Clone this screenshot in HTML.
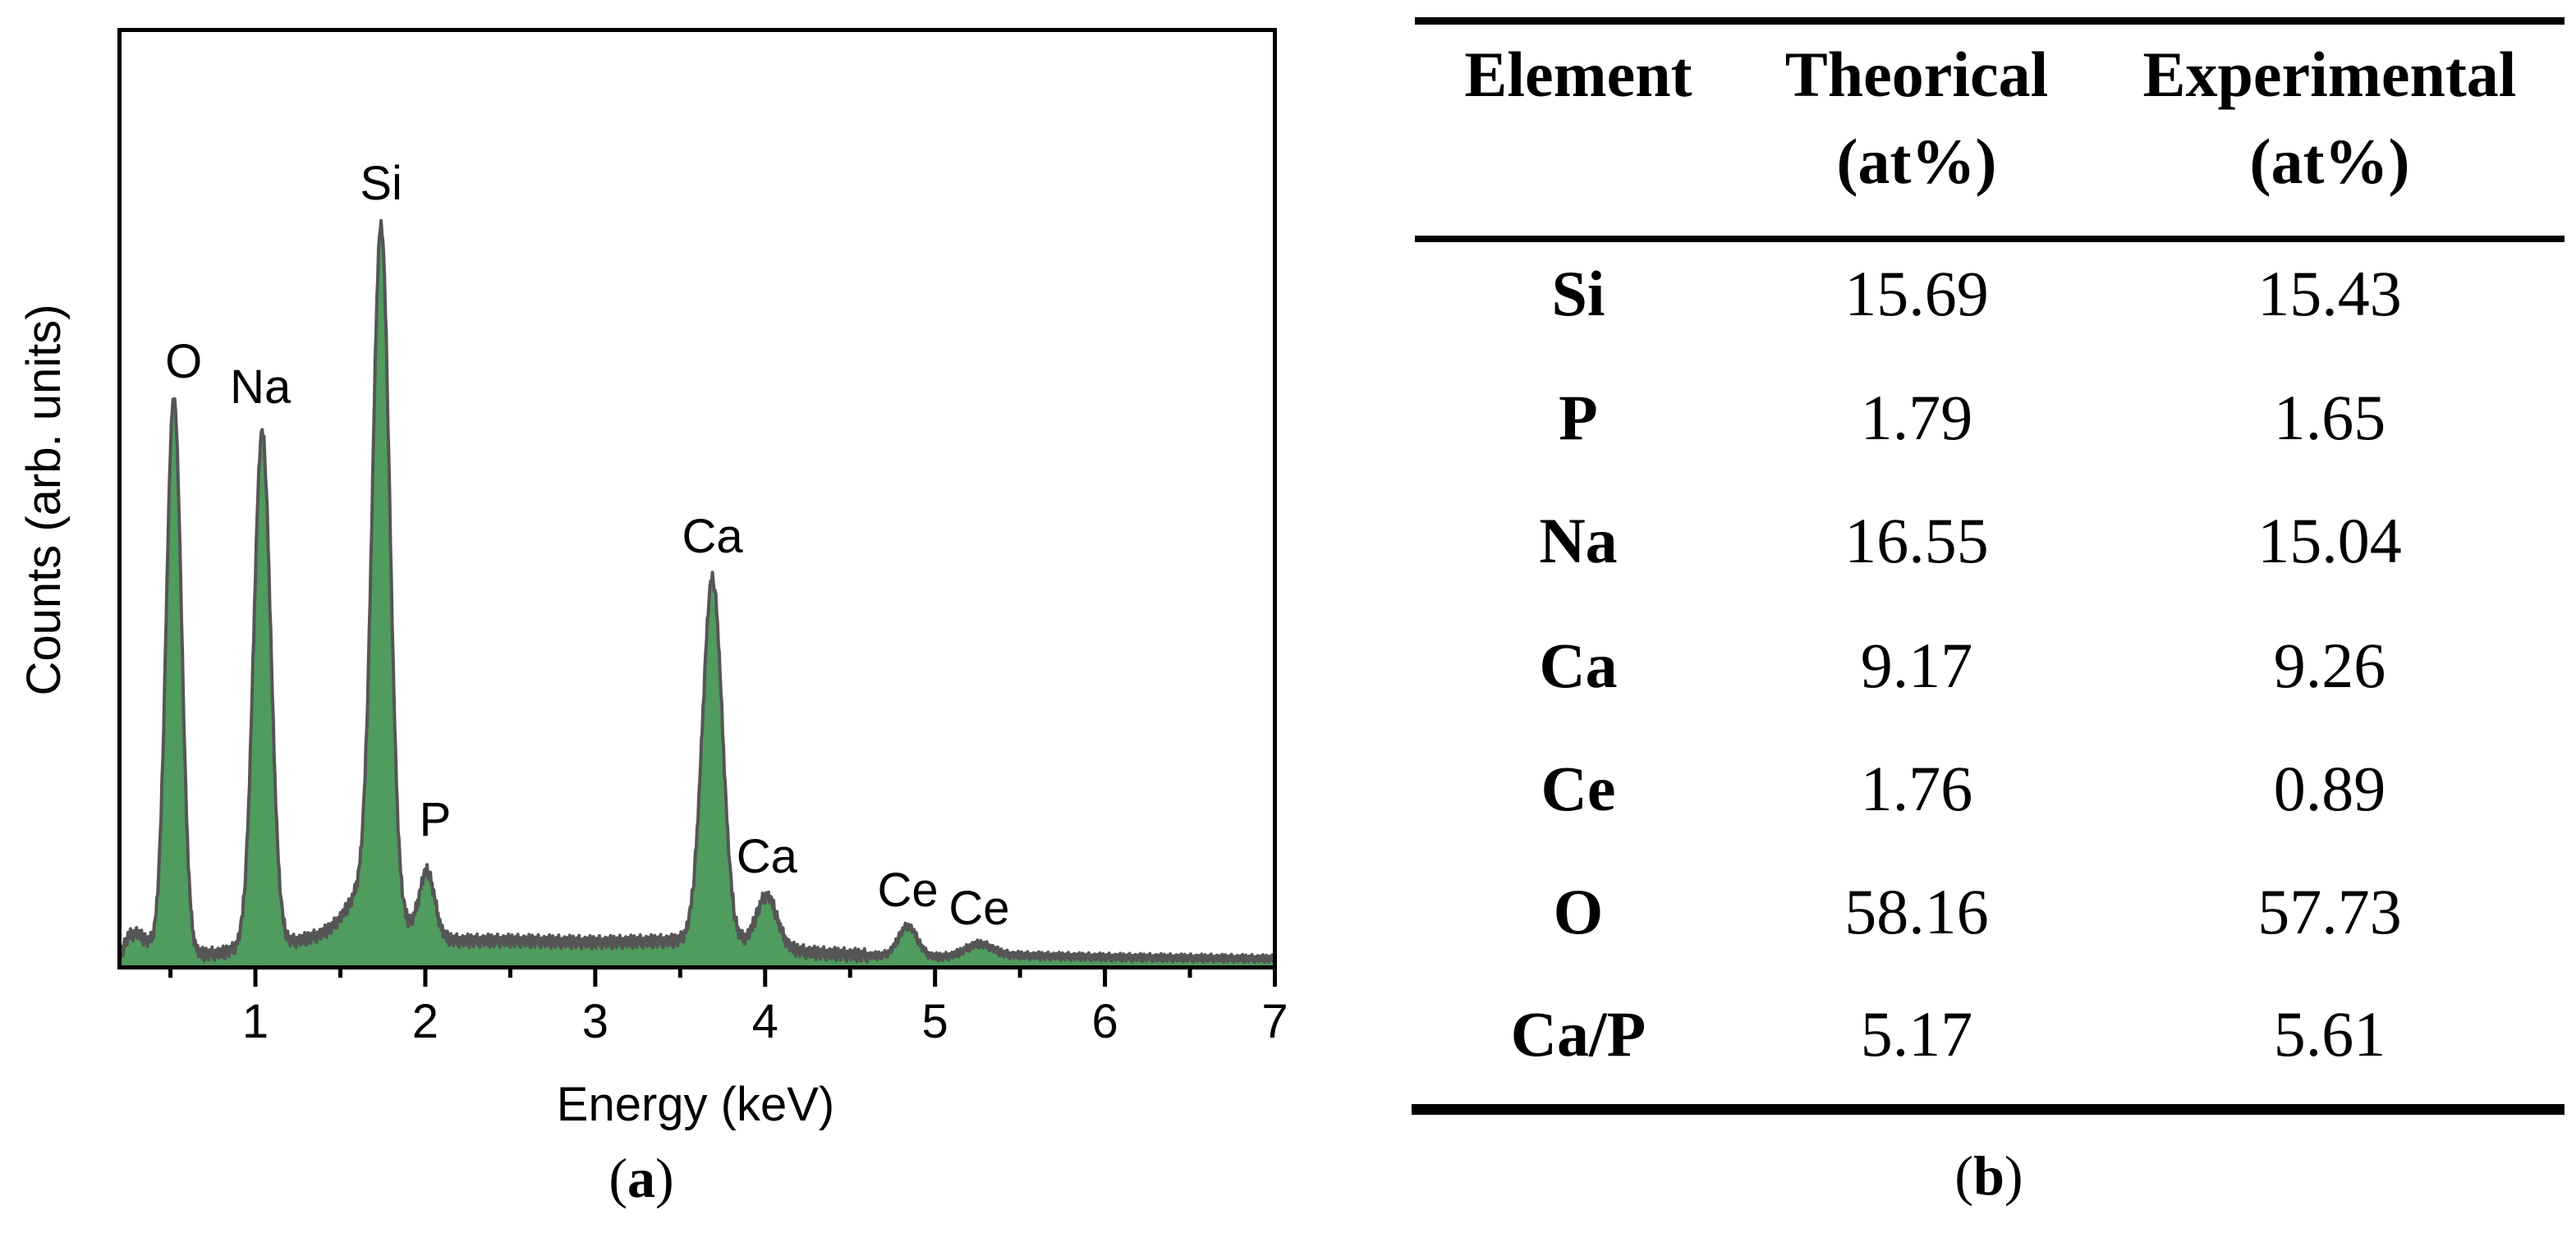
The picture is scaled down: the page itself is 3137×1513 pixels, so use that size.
<!DOCTYPE html>
<html><head><meta charset="utf-8">
<style>
html,body{margin:0;padding:0;background:#fff;}
svg{display:block;}
.sans{font-family:"Liberation Sans",Arial,sans-serif;}
.serif{font-family:"Liberation Serif","Times New Roman",serif;}
</style></head>
<body>
<svg id="fig" width="3137" height="1513" viewBox="0 0 3137 1513" xmlns="http://www.w3.org/2000/svg">
  <g id="chart"></g>
  <g id="table" class="serif" font-size="78" fill="#000">
    <rect x="1723" y="21" width="1400" height="9" fill="#000"/>
    <rect x="1723" y="287" width="1400" height="8" fill="#000"/>
    <rect x="1719" y="1345" width="1404" height="13" fill="#000"/>
    <g font-weight="bold" text-anchor="middle">
      <text x="1922" y="117">Element</text>
      <text x="2334" y="117">Theorical</text>
      <text x="2334" y="223">(at%)</text>
      <text x="2837" y="117">Experimental</text>
      <text x="2837" y="223">(at%)</text>
    </g>
    <g id="rows"></g>
    <text x="2422" y="1455" text-anchor="middle" font-size="68">(<tspan font-weight="bold">b</tspan>)</text>
  </g>
</svg>
<script>
// ---- spectrum data ----
const bgEnergy = [0.2,0.25,0.3,0.4,0.47,0.6,0.8,0.9,1.2,1.4,1.55,1.65,2.2,2.5,3.0,3.5,3.6,4.3,4.6,5.0,5.5,6.0,7.0];
const bgCounts = [10,35,40,22,12,12,15,20,28,36,40,40,30,30,28,30,33,15,12,10,12,10,8];
const peakLabels = ["O","Na","Si","Si","P","Ca","Ca","Ce","Ce"];
const peakCenters = [0.52,1.04,1.74,1.68,2.01,3.69,4.01,4.84,5.26];
const peakHeights = [680,625,810,60,80,440,62,37,15];
const peakWidths = [0.045,0.05,0.05,0.12,0.045,0.058,0.06,0.055,0.08];
const noise = [4,-5,8,-3,-8,1,7,-4,3,-7,5,0,-2,8,-5,3,-8,4,1,-3,6,-6,0,5];
const xTicks = [1,2,3,4,5,6,7];
const xMinor = [0.5,1.5,2.5,3.5,4.5,5.5,6.5];
const annotE = [0.52,1.03,1.74,2.01,3.69,4.01,4.84,5.26];
const annotText = ["O","Na","Si","P","Ca","Ca","Ce","Ce"];
const annotCounts = [736,705,953,178,523,133,92,70];
// ---- table data ----
const tableElements = ["Si","P","Na","Ca","Ce","O","Ca/P"];
const theorical = ["15.69","1.79","16.55","9.17","1.76","58.16","5.17"];
const experimental = ["15.43","1.65","15.04","9.26","0.89","57.73","5.61"];

const NS = "http://www.w3.org/2000/svg";
const L=145.5, R=1552.5, T=36.5, B=1176;
const X0=0.2, X1=7;
function xs(e){ return L + (e-X0)/(X1-X0)*(R-L); }
function ys(c){ return B - c; }
function mk(tag, attrs, parent){ const el=document.createElementNS(NS,tag); for(const k in attrs) el.setAttribute(k,attrs[k]); parent.appendChild(el); return el; }
function bg(e){
  for(let i=0;i<bgEnergy.length-1;i++){
    if(e>=bgEnergy[i] && e<=bgEnergy[i+1]){
      const t=(e-bgEnergy[i])/(bgEnergy[i+1]-bgEnergy[i]);
      return bgCounts[i]+t*(bgCounts[i+1]-bgCounts[i]);
    }
  }
  return bgCounts[bgCounts.length-1];
}
function spectrum(e){
  let c=bg(e);
  for(let i=0;i<peakCenters.length;i++){
    const d=(e-peakCenters[i])/peakWidths[i];
    c+=peakHeights[i]*Math.exp(-0.5*d*d);
  }
  return c;
}
const chart=document.getElementById('chart');
let pts=[]; let k=0;
for(let e=X0; e<=X1+1e-9; e+=0.005){
  const c=Math.max(0, spectrum(e)+noise[k%noise.length]*(bg(e)>12?1:0.6));
  pts.push([xs(e), ys(c)]); k++;
}
const lineD = "M"+pts.map(p=>p[0].toFixed(1)+","+p[1].toFixed(1)).join("L");
const fill=mk('path',{d:lineD+"L"+R+","+B+"L"+L+","+B+"Z",fill:"#509b5e",stroke:"none"},chart);


const line=mk('path',{d:lineD,fill:"none",stroke:"#555555","stroke-width":4,"stroke-linejoin":"round"},chart);


const frame=mk('rect',{x:L,y:T,width:R-L,height:B+2.5-T,fill:"none",stroke:"#000","stroke-width":5},chart);


xTicks.forEach(v=>{
  const t=mk('line',{x1:xs(v),x2:xs(v),y1:B,y2:1202,stroke:"#000","stroke-width":5},chart);
  
  
  const lb=mk('text',{x:xs(v),y:1264,"text-anchor":"middle","font-size":58,class:"sans"},chart);
  
  
  lb.textContent=v;
});
xMinor.forEach(v=>{
  const t=mk('line',{x1:xs(v),x2:xs(v),y1:B,y2:1191,stroke:"#000","stroke-width":5},chart);
  
  
});
annotE.forEach((e,i)=>{
  const a=mk('text',{x:xs(e)+(i==0?12:i==3?10:0),y:ys(annotCounts[i])+20,"text-anchor":"middle","font-size":58,class:"sans"},chart);
  
  
  a.textContent=annotText[i];
});
const xt=mk('text',{x:847,y:1365,"text-anchor":"middle","font-size":58,class:"sans"},chart);


xt.textContent="Energy (keV)";
const yt=mk('text',{x:0,y:0,"text-anchor":"middle","font-size":58,class:"sans",transform:"translate(73,609) rotate(-90)"},chart);


yt.textContent="Counts (arb. units)";
const pa=mk('text',{x:781,y:1458,"text-anchor":"middle","font-size":68,class:"serif"},chart);


pa.innerHTML='(<tspan font-weight="bold">a</tspan>)';
const rows=document.getElementById('rows');
const rowY=[357,508,658,810,960,1110,1259];
tableElements.forEach((el,i)=>{
  const y=rowY[i]+27;
  const a=mk('text',{x:1922,y:y,"text-anchor":"middle","font-weight":"bold"},rows);
  
  
  a.textContent=el;
  const b=mk('text',{x:2334,y:y,"text-anchor":"middle"},rows);
  
  
  b.textContent=theorical[i];
  const c=mk('text',{x:2837,y:y,"text-anchor":"middle"},rows);
  
  
  c.textContent=experimental[i];
});
</script>
</body></html>
